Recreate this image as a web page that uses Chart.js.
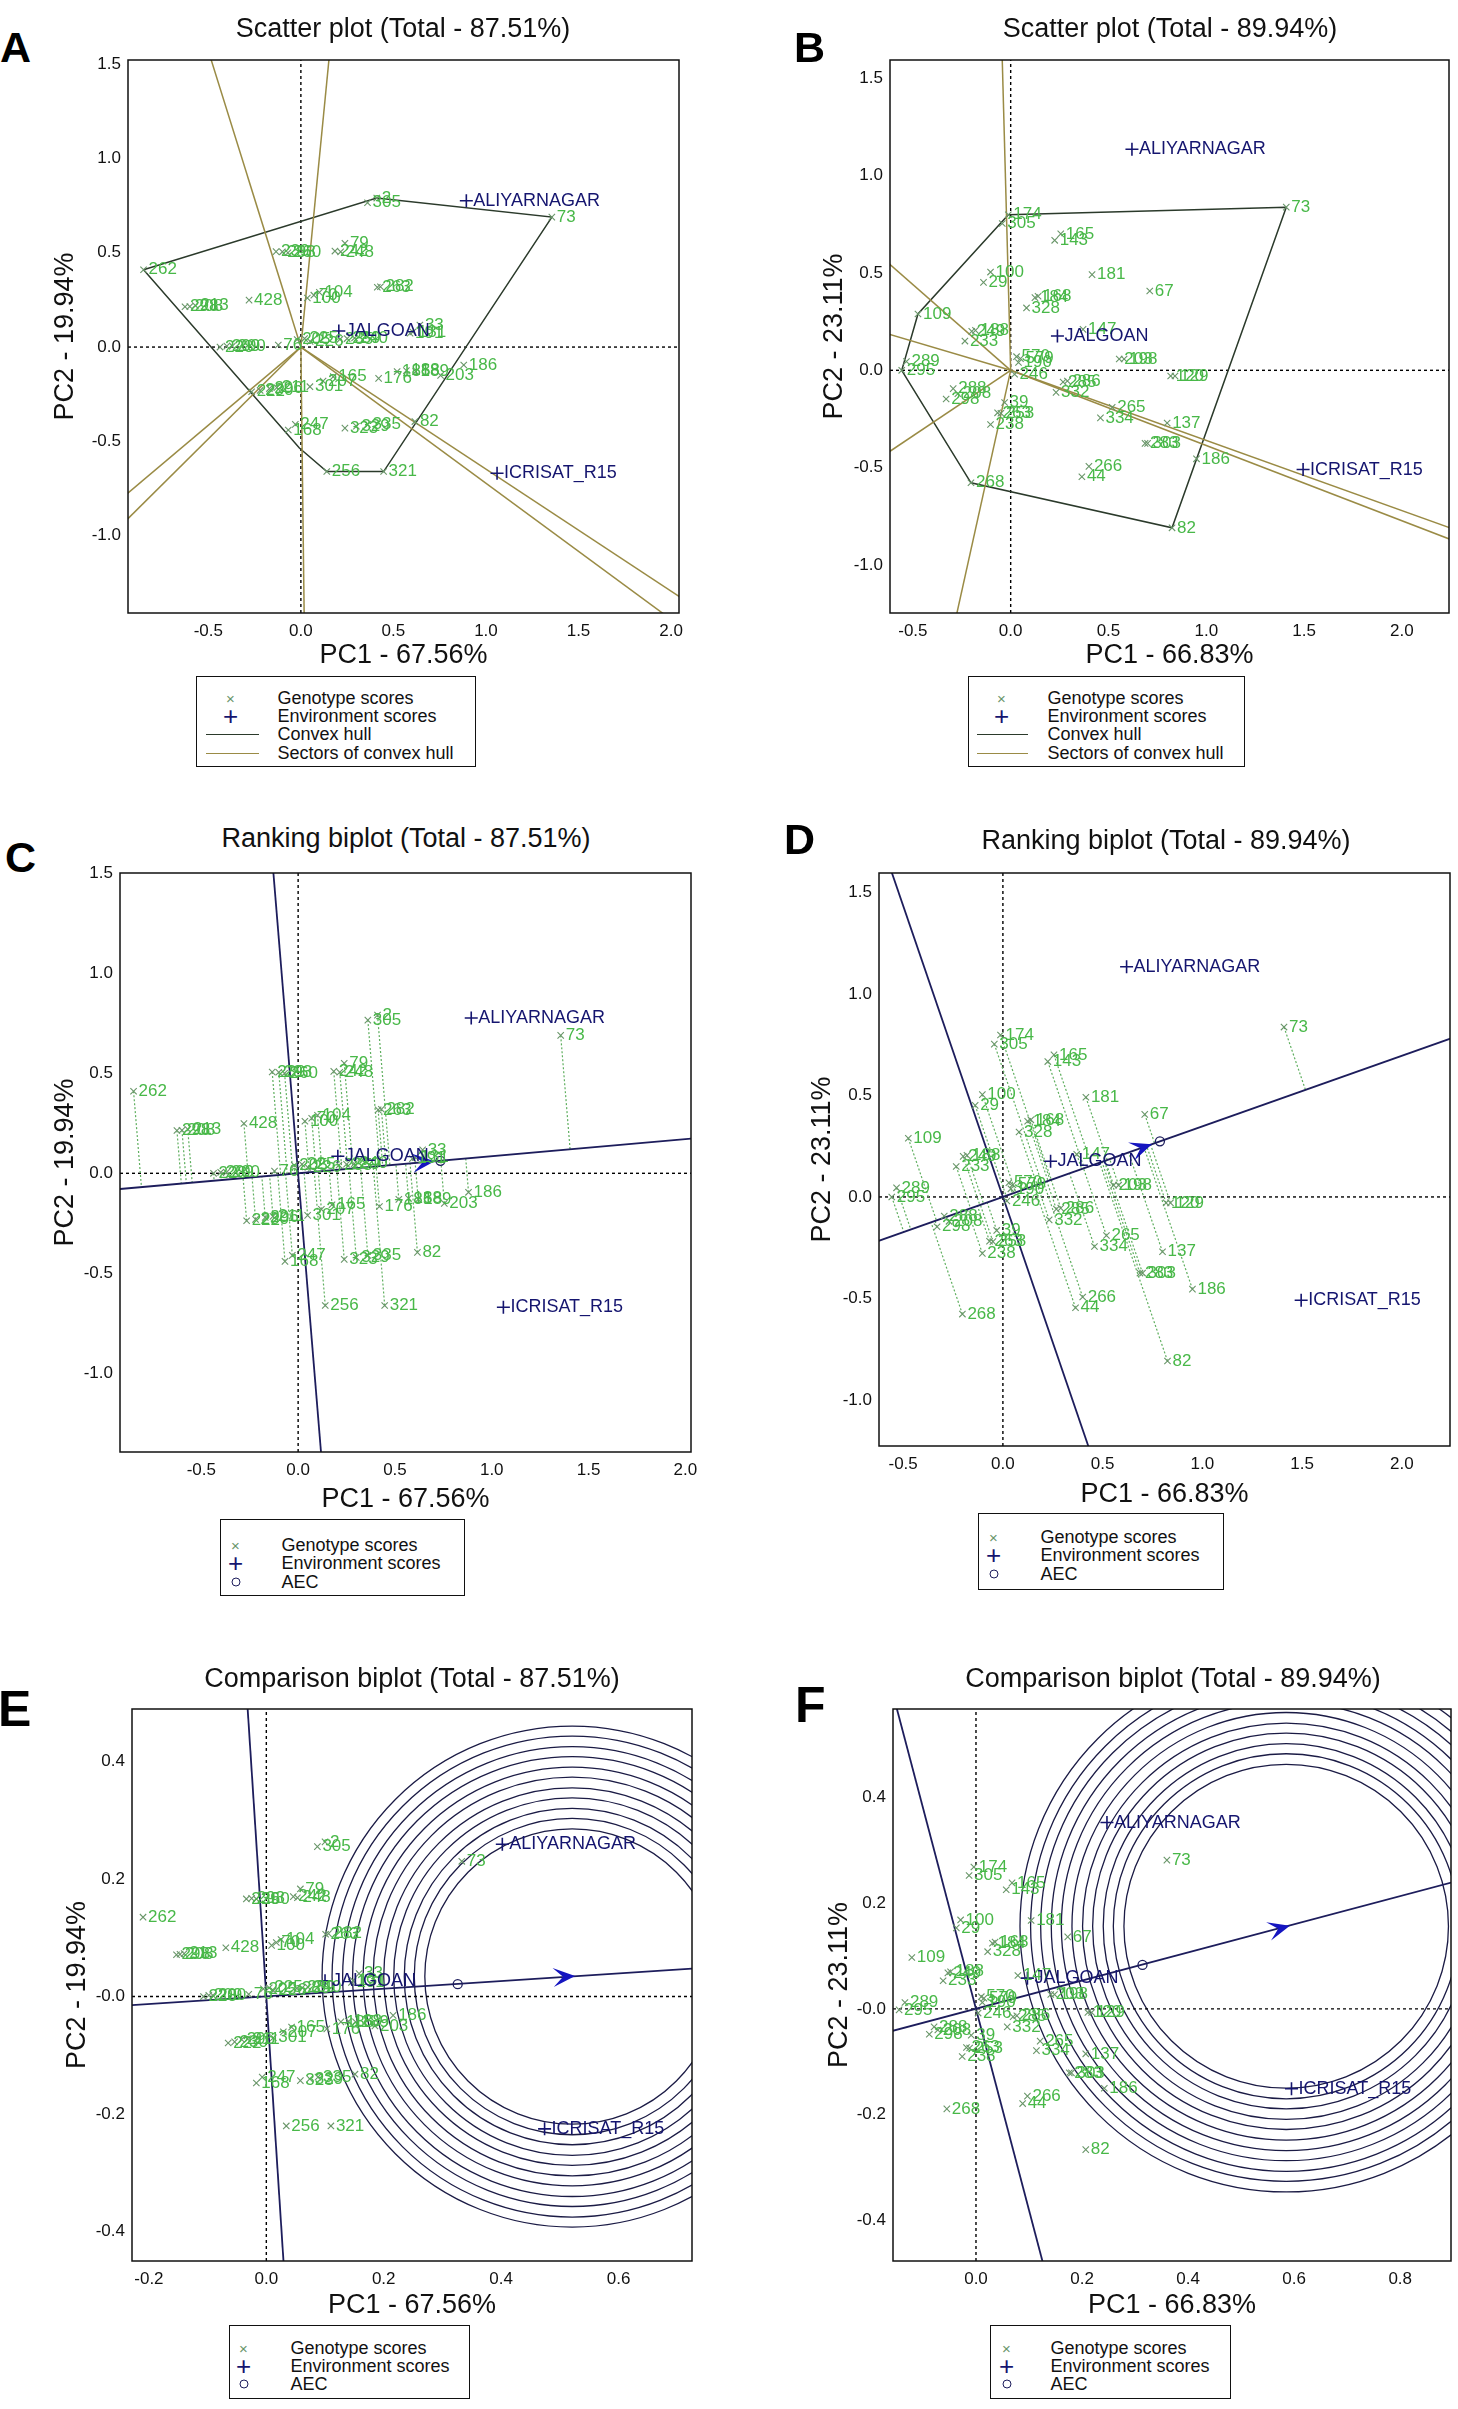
<!DOCTYPE html>
<html>
<head>
<meta charset="utf-8">
<title>GGE biplots</title>
<script src="https://cdn.jsdelivr.net/npm/chart.js@4.4.1/dist/chart.umd.min.js"></script>
<style>
  html, body { margin:0; padding:0; background:#fff; }
  body { position:relative; width:1458px; height:2409px; overflow:hidden; font-family:"Liberation Sans", Arial, Helvetica, sans-serif; color:#000; }
  canvas { position:absolute; }
  .letter { position:absolute; font-weight:bold; line-height:1; color:#000; }
  .ptitle { position:absolute; font-size:27px; line-height:1; white-space:nowrap; transform:translate(-50%,-50%); color:#111; }
  .legend { position:absolute; border:1.5px solid #111; box-sizing:border-box; background:#fff; }
  .lt { position:absolute; font-size:18px; line-height:1; white-space:nowrap; transform:translateY(-50%); color:#111; }
  .ls { position:absolute; line-height:1; transform:translate(-50%,-50%); }
  .ll { position:absolute; height:0; }
</style>
</head>
<body>
<script>
// ===================== DATA =====================
const envLabels = ['ALIYARNAGAR', 'JALGOAN', 'ICRISAT_R15'];

// ---- Dataset 1 : panels A and C (PC1 67.56 %, PC2 19.94 %) ----
const geno1Labels = ['262','2','305','73','239','293','260','79','242','248','104','100','70','263','282','428','298','208','213','33','191','131','285','289','240','205','225','76','226','228','209','200','186','203','176','185','188','189','165','301','207','222','230','296','211','247','168','323','329','335','82','256','321'];
const geno1PC1 = [-0.85,0.41,0.36,1.356,-0.134,-0.10,-0.07,0.238,0.184,0.215,0.10,0.035,0.07,0.413,0.43,-0.28,-0.626,-0.60,-0.57,0.643,0.59,0.605,0.211,0.25,0.29,-0.02,0.02,-0.122,0.05,-0.437,-0.40,-0.37,0.88,0.755,0.42,0.52,0.57,0.62,0.175,0.049,0.12,-0.266,-0.22,-0.17,-0.13,-0.03,-0.068,0.238,0.30,0.36,0.616,0.14,0.447];
const geno1PC2 = [0.41,0.79,0.765,0.689,0.506,0.505,0.50,0.55,0.509,0.505,0.29,0.26,0.275,0.317,0.32,0.249,0.214,0.215,0.22,0.117,0.073,0.08,0.041,0.045,0.048,0.04,0.045,0.011,0.03,0.0,0.005,0.005,-0.095,-0.15,-0.166,-0.13,-0.125,-0.13,-0.157,-0.21,-0.18,-0.237,-0.23,-0.22,-0.215,-0.41,-0.44,-0.43,-0.42,-0.41,-0.395,-0.66,-0.66];
const env1PC1 = [0.894, 0.205, 1.06];
const env1PC2 = [0.776, 0.085, -0.669];
const hull1PC1 = [-0.85, 0.41, 1.356, 0.447, 0.14, -0.008];
const hull1PC2 = [0.41, 0.79, 0.689, -0.66, -0.66, -0.535];
const sector1PC1 = [-0.521, 0.163, -1.0, -1.0, 2.1, 2.1, 0.019];
const sector1PC2 = [1.637, 1.637, -0.828, -0.974, -1.359, -1.516, -1.514];
const aec1AbsPC1 = [-0.95, 2.1];
const aec1AbsPC2 = [-0.081, 0.179];
const aec1OrdPC1 = [-0.132, 0.123];
const aec1OrdPC2 = [1.55, -1.45];
const aec1Arrow = [0.705, 0.06];
const aec1Mark = [0.735, 0.0625];

// ---- Dataset 2 : panels B and D (PC1 66.83 %, PC2 23.11 %) ----
const geno2Labels = ['73','174','305','165','143','181','67','100','29','184','168','328','109','147','249','188','233','289','295','570','579','190','246','203','198','120','129','285','286','332','288','298','208','39','263','253','238','265','334','137','283','303','186','266','44','268','82'];
const geno2PC1 = [1.409,-0.012,-0.043,0.256,0.225,0.416,0.711,-0.103,-0.139,0.124,0.14,0.081,-0.474,0.37,-0.199,-0.18,-0.234,-0.533,-0.557,0.03,0.05,0.04,0.02,0.555,0.58,0.818,0.84,0.268,0.29,0.232,-0.294,-0.33,-0.27,-0.031,-0.067,-0.05,-0.103,0.519,0.459,0.80,0.687,0.70,0.95,0.40,0.364,-0.203,0.825];
const geno2PC2 = [0.837,0.798,0.753,0.70,0.667,0.491,0.407,0.504,0.451,0.373,0.38,0.32,0.289,0.21,0.20,0.205,0.15,0.045,0.0,0.07,0.06,0.04,-0.02,0.058,0.058,-0.029,-0.029,-0.06,-0.055,-0.113,-0.094,-0.147,-0.12,-0.165,-0.218,-0.22,-0.278,-0.19,-0.244,-0.27,-0.375,-0.375,-0.454,-0.493,-0.546,-0.577,-0.808];
const env2PC1 = [0.62, 0.239, 1.495];
const env2PC2 = [1.134, 0.176, -0.509];
const hull2PC1 = [1.409, -0.012, -0.474, -0.557, -0.203, 0.825];
const hull2PC2 = [0.837, 0.798, 0.289, 0.0, -0.577, -0.808];
const sector2PC1 = [-0.046, -0.66, -0.66, -0.66, -0.294, 2.4, 2.4];
const sector2PC2 = [1.70, 0.581, 0.197, -0.444, -1.332, -0.864, -0.926];
const aec2AbsPC1 = [-0.65, 2.3];
const aec2AbsPC2 = [-0.226, 0.80];
const aec2OrdPC1 = [-0.561, 0.436];
const aec2OrdPC2 = [1.61, -1.25];
const aec2Arrow = [0.747, 0.26];
const aec2Mark = [0.787, 0.274];

// ---- Dataset 3 : panel E (comparison, PC1 67.56 %, PC2 19.94 %) ----
const geno3PC1 = [-0.21,0.10,0.087,0.333,-0.034,-0.025,-0.017,0.058,0.046,0.053,0.025,0.009,0.017,0.101,0.106,-0.069,-0.153,-0.147,-0.14,0.158,0.145,0.148,0.052,0.061,0.071,-0.005,0.005,-0.03,0.012,-0.107,-0.098,-0.091,0.216,0.185,0.103,0.127,0.14,0.152,0.043,0.012,0.029,-0.065,-0.054,-0.042,-0.032,-0.007,-0.017,0.058,0.074,0.088,0.151,0.034,0.11];
const geno3PC2 = [0.135,0.263,0.255,0.23,0.166,0.167,0.166,0.183,0.17,0.168,0.097,0.087,0.092,0.106,0.107,0.083,0.071,0.072,0.073,0.039,0.024,0.027,0.014,0.015,0.016,0.013,0.015,0.004,0.01,0.0,0.002,0.002,-0.032,-0.05,-0.055,-0.043,-0.042,-0.043,-0.052,-0.07,-0.06,-0.079,-0.077,-0.073,-0.072,-0.137,-0.147,-0.143,-0.14,-0.137,-0.132,-0.22,-0.22];
const env3PC1 = [0.402, 0.10, 0.474];
const env3PC2 = [0.259, 0.027, -0.225];
const aec3AbsPC1 = [-0.25, 0.75];
const aec3AbsPC2 = [-0.016, 0.049];
const aec3OrdPC1 = [-0.0325, 0.0299];
const aec3OrdPC2 = [0.50, -0.46];
const aec3Arrow = [0.526, 0.035];
const aec3Mark = [0.326, 0.021];
const ring3Centre = [0.521, 0.034];
const ring3Radii = [0.251,0.269,0.286,0.304,0.321,0.339,0.356,0.374,0.391,0.409,0.426];

// ---- Dataset 4 : panel F (comparison, PC1 66.83 %, PC2 23.11 %) ----
const geno4PC1 = [0.36,-0.004,-0.013,0.068,0.057,0.104,0.173,-0.029,-0.037,0.031,0.036,0.022,-0.121,0.079,-0.053,-0.048,-0.062,-0.134,-0.145,0.01,0.015,0.012,0.004,0.141,0.148,0.211,0.218,0.07,0.077,0.059,-0.079,-0.088,-0.072,-0.009,-0.018,-0.012,-0.026,0.121,0.114,0.207,0.176,0.18,0.242,0.097,0.088,-0.055,0.207];
const geno4PC2 = [0.281,0.268,0.252,0.238,0.225,0.167,0.136,0.168,0.153,0.124,0.126,0.108,0.097,0.063,0.068,0.07,0.053,0.012,-0.002,0.023,0.02,0.012,-0.008,0.027,0.027,-0.007,-0.007,-0.015,-0.013,-0.034,-0.034,-0.048,-0.04,-0.05,-0.073,-0.074,-0.09,-0.061,-0.079,-0.085,-0.121,-0.121,-0.15,-0.165,-0.179,-0.189,-0.266];
const env4PC1 = [0.247, 0.097, 0.595];
const env4PC2 = [0.352, 0.058, -0.151];
const aec4AbsPC1 = [-0.17, 0.92];
const aec4AbsPC2 = [-0.045, 0.245];
const aec4OrdPC1 = [-0.15, 0.127];
const aec4OrdPC2 = [0.57, -0.483];
const aec4Arrow = [0.592, 0.157];
const aec4Mark = [0.314, 0.083];
const ring4Centre = [0.585, 0.156];
const ring4Radii = [0.306,0.326,0.345,0.365,0.384,0.404,0.424,0.443,0.463,0.482,0.502];

// ---- tick values / labels ----
const ticksPC1Wide = [-0.5, 0, 0.5, 1, 1.5, 2];
const ticksPC1WideLab = ['-0.5','0.0','0.5','1.0','1.5','2.0'];
const ticksPC2Wide = [-1, -0.5, 0, 0.5, 1, 1.5];
const ticksPC2WideLab = ['-1.0','-0.5','0.0','0.5','1.0','1.5'];
const ticksPC1E = [-0.2, 0, 0.2, 0.4, 0.6];
const ticksPC1ELab = ['-0.2','0.0','0.2','0.4','0.6'];
const ticksPC1F = [0, 0.2, 0.4, 0.6, 0.8];
const ticksPC1FLab = ['0.0','0.2','0.4','0.6','0.8'];
const ticksPC2Cmp = [-0.4, -0.2, 0, 0.2, 0.4];
const ticksPC2CmpLab = ['-0.4','-0.2','-0.0','0.2','0.4'];

// ===================== STYLE =====================
const FONT = '"Liberation Sans", Arial, Helvetica, sans-serif';
const COL = {
  genoMark: 'rgb(105,150,105)',
  genoText: 'rgb(72,184,72)',
  env: '#15156f',
  hull: '#2b3a2b',
  sector: '#9a8b45',
  aec: '#1d1d5c',
  arrow: '#1515c0',
  ring: '#1b1b45',
  proj: 'rgb(95,175,95)',
  axis: '#000'
};

// ===================== PLUGIN =====================
const ggePlugin = {
  id: 'gge',
  beforeDatasetsDraw(chart, args, o) {
    if (!o || !o.rings) return;
    const {ctx, chartArea: a} = chart; const xs = chart.scales.x, ys = chart.scales.y;
    ctx.save();
    ctx.beginPath(); ctx.rect(a.left, a.top, a.right - a.left, a.bottom - a.top); ctx.clip();
    ctx.strokeStyle = COL.ring; ctx.lineWidth = 1.3;
    const cx = xs.getPixelForValue(o.rings.c[0]), cy = ys.getPixelForValue(o.rings.c[1]);
    o.rings.r.forEach(r => {
      const rx = Math.abs(xs.getPixelForValue(o.rings.c[0] + r) - cx);
      const ry = Math.abs(ys.getPixelForValue(o.rings.c[1] + r) - cy);
      ctx.beginPath(); ctx.ellipse(cx, cy, rx, ry, 0, 0, Math.PI * 2); ctx.stroke();
    });
    ctx.restore();
  },
  afterDatasetsDraw(chart, args, o) {
    if (!o) return;
    const {ctx, chartArea: a} = chart; const xs = chart.scales.x, ys = chart.scales.y;
    ctx.save();
    ctx.beginPath(); ctx.rect(a.left, a.top, a.right - a.left, a.bottom - a.top); ctx.clip();
    if (o.arrow) {
      const px = xs.getPixelForValue(o.arrow.at[0]), py = ys.getPixelForValue(o.arrow.at[1]);
      const qx = xs.getPixelForValue(o.arrow.at[0] - o.arrow.dir[0] * 0.05);
      const qy = ys.getPixelForValue(o.arrow.at[1] - o.arrow.dir[1] * 0.05);
      const ang = Math.atan2(py - qy, px - qx);
      ctx.save(); ctx.translate(px, py); ctx.rotate(ang);
      ctx.fillStyle = COL.arrow;
      const L = 22, W = 9.5;
      ctx.beginPath(); ctx.moveTo(0, 0); ctx.lineTo(-L, -W); ctx.lineTo(-0.55 * L, 0); ctx.lineTo(-L, W); ctx.closePath(); ctx.fill();
      ctx.restore();
    }
    (o.labels || []).forEach(g => {
      ctx.fillStyle = g.color; ctx.font = g.size + 'px ' + FONT;
      ctx.textAlign = 'left'; ctx.textBaseline = 'middle';
      g.t.forEach((t, i) => {
        ctx.fillText(t, xs.getPixelForValue(g.x[i]) + g.dx, ys.getPixelForValue(g.y[i]));
      });
    });
    ctx.restore();
    ctx.save();
    ctx.strokeStyle = '#111'; ctx.lineWidth = 1.5;
    ctx.strokeRect(a.left, a.top, a.right - a.left, a.bottom - a.top);
    ctx.restore();
  }
};
Chart.register(ggePlugin);

// ===================== HELPERS =====================
function pts(xs, ys) { return xs.map((v, i) => ({x: v, y: ys[i]})); }
function seg(x0, y0, x1, y1, color, width, dash) {
  return {data: [{x: x0, y: y0}, {x: x1, y: y1}], showLine: true, borderColor: color, borderWidth: width,
          borderDash: dash || [], pointRadius: 0, pointHoverRadius: 0, fill: false, tension: 0};
}

function makePanel(p) {
  const Yw = Math.round(p.L - (p.ytc - 16.2));
  const Xh = Math.round((p.xtc + 16.2) - p.B);
  const CL = p.L - Yw, CT = p.T - 20;
  const CW = p.R + 30 - CL, CH = p.B + Xh - CT;
  const cv = document.createElement('canvas');
  cv.width = CW; cv.height = CH;
  cv.style.left = CL + 'px'; cv.style.top = CT + 'px';
  cv.style.width = CW + 'px'; cv.style.height = CH + 'px';
  document.body.appendChild(cv);

  const ds = [];
  ds.push(seg(p.xmin, 0, p.xmax, 0, COL.axis, 1.4, [3, 3]));
  ds.push(seg(0, p.ymin, 0, p.ymax, COL.axis, 1.4, [3, 3]));
  if (p.hull) {
    const hx = p.hull[0].concat([p.hull[0][0]]), hy = p.hull[1].concat([p.hull[1][0]]);
    ds.push({data: pts(hx, hy), showLine: true, borderColor: COL.hull, borderWidth: 1.5, pointRadius: 0, fill: false, tension: 0});
  }
  if (p.sectors) p.sectors[0].forEach((ex, i) => ds.push(seg(0, 0, ex, p.sectors[1][i], COL.sector, 1.5)));
  if (p.aec) {
    const A = p.aec;
    if (p.proj) {
      const dx = A.abs[0][1] - A.abs[0][0], dy = A.abs[1][1] - A.abs[1][0];
      const nn = dx * dx + dy * dy;
      p.g[0].forEach((gx, i) => {
        const gy = p.g[1][i]; const t = (gx * dx + gy * dy) / nn;
        ds.push(seg(gx, gy, t * dx, t * dy, COL.proj, 1.2, [2, 2]));
      });
    }
    ds.push(seg(A.abs[0][0], A.abs[1][0], A.abs[0][1], A.abs[1][1], COL.aec, 1.8));
    ds.push(seg(A.ord[0][0], A.ord[1][0], A.ord[0][1], A.ord[1][1], COL.aec, 1.8));
  }
  ds.push({data: pts(p.g[0], p.g[1]), pointStyle: 'crossRot', pointRadius: 4.5, borderColor: COL.genoMark,
           backgroundColor: COL.genoMark, borderWidth: 1.1, showLine: false});
  ds.push({data: pts(p.e[0], p.e[1]), pointStyle: 'cross', pointRadius: 6.5, borderColor: COL.env,
           backgroundColor: COL.env, borderWidth: 1.6, showLine: false});
  if (p.aec && p.aec.mark) {
    ds.push({data: [{x: p.aec.mark[0], y: p.aec.mark[1]}], pointStyle: 'circle', pointRadius: 4.5,
             borderColor: COL.aec, backgroundColor: 'rgba(0,0,0,0)', borderWidth: 1.3, showLine: false});
  }
  const n = ds.length; ds.forEach((d, i) => { d.order = n - i; });

  const ggeOpts = {
    labels: [
      {x: p.g[0], y: p.g[1], t: p.gl, color: COL.genoText, size: 17, dx: 5},
      {x: p.e[0], y: p.e[1], t: envLabels, color: COL.env, size: 18, dx: 7}
    ]
  };
  if (p.aec) {
    const A = p.aec;
    ggeOpts.arrow = {at: A.arrow, dir: [A.abs[0][1] - A.abs[0][0], A.abs[1][1] - A.abs[1][0]]};
  }
  if (p.rings) ggeOpts.rings = p.rings;

  const tickFont = {family: FONT, size: 17};
  const titleFont = {family: FONT, size: 27};
  new Chart(cv.getContext('2d'), {
    type: 'scatter',
    data: {datasets: ds},
    options: {
      responsive: false, animation: false, events: [],
      layout: {padding: {left: 0, top: 20, right: 30, bottom: 0}},
      plugins: {legend: {display: false}, tooltip: {enabled: false}, gge: ggeOpts},
      scales: {
        x: {
          type: 'linear', min: p.xmin, max: p.xmax,
          afterBuildTicks: s => { s.ticks = p.xt.map(v => ({value: v})); },
          afterFit: s => { s.height = Xh; },
          ticks: {callback: (v, i) => p.xtl[i], font: tickFont, color: '#111', padding: 8, maxRotation: 0, autoSkip: false},
          grid: {display: false, drawTicks: false}, border: {display: false},
          title: {display: true, text: p.xTitle, font: titleFont, color: '#111', padding: 0}
        },
        y: {
          type: 'linear', min: p.ymin, max: p.ymax,
          afterBuildTicks: s => { s.ticks = p.yt.map(v => ({value: v})); },
          afterFit: s => { s.width = Yw; },
          ticks: {callback: (v, i) => p.ytl[i], font: tickFont, color: '#111', padding: 7, autoSkip: false},
          grid: {display: false, drawTicks: false}, border: {display: false},
          title: {display: true, text: p.yTitle, font: titleFont, color: '#111', padding: 0}
        }
      }
    }
  });
}

function addText(cls, txt, x, y, size) {
  const d = document.createElement('div'); d.className = cls; d.textContent = txt;
  d.style.left = x + 'px'; d.style.top = y + 'px';
  if (size) d.style.fontSize = size + 'px';
  document.body.appendChild(d);
}

function makeLegend(b, rows) {
  const d = document.createElement('div'); d.className = 'legend';
  d.style.left = b.x + 'px'; d.style.top = b.y + 'px'; d.style.width = b.w + 'px'; d.style.height = b.h + 'px';
  const ox = b.x + 1.5, oy = b.y + 1.5;
  rows.forEach((r, i) => {
    const ry = b.rows[i] - oy;
    const t = document.createElement('div'); t.className = 'lt'; t.textContent = r.text;
    t.style.left = (b.tx - ox) + 'px'; t.style.top = ry + 'px'; d.appendChild(t);
    if (r.sym === 'x' || r.sym === '+') {
      const s = document.createElement('div'); s.className = 'ls';
      s.textContent = r.sym === 'x' ? '\u00d7' : '+';
      s.style.color = r.sym === 'x' ? COL.genoMark : COL.env;
      s.style.fontSize = r.sym === 'x' ? '15px' : '26px';
      s.style.left = (b.sx - ox) + 'px'; s.style.top = ry + 'px'; d.appendChild(s);
    } else if (r.sym === 'o') {
      const s = document.createElement('div'); s.className = 'ls';
      s.style.width = '7px'; s.style.height = '7px'; s.style.border = '1.4px solid ' + COL.aec; s.style.borderRadius = '50%';
      s.style.left = (b.sx - ox) + 'px'; s.style.top = ry + 'px'; d.appendChild(s);
    } else {
      const s = document.createElement('div'); s.className = 'll';
      s.style.left = (b.l0 - ox) + 'px'; s.style.width = (b.l1 - b.l0) + 'px';
      s.style.top = ry + 'px'; s.style.borderTop = '1.5px solid ' + (r.sym === 'hull' ? COL.hull : COL.sector);
      d.appendChild(s);
    }
  });
  document.body.appendChild(d);
}

// ===================== PANELS =====================
const T1x = 'PC1 - 67.56%', T1y = 'PC2 - 19.94%';
const T2x = 'PC1 - 66.83%', T2y = 'PC2 - 23.11%';

makePanel({L:128, T:60, R:679, B:613, ytc:65, xtc:656, xmin:-0.934, xmax:2.043, ymin:-1.41, ymax:1.522,
  xt:ticksPC1Wide, xtl:ticksPC1WideLab, yt:ticksPC2Wide, ytl:ticksPC2WideLab, xTitle:T1x, yTitle:T1y,
  g:[geno1PC1, geno1PC2], gl:geno1Labels, e:[env1PC1, env1PC2],
  hull:[hull1PC1, hull1PC2], sectors:[sector1PC1, sector1PC2]});

makePanel({L:890, T:60, R:1449, B:613, ytc:834, xtc:656, xmin:-0.617, xmax:2.241, ymin:-1.245, ymax:1.592,
  xt:ticksPC1Wide, xtl:ticksPC1WideLab, yt:ticksPC2Wide, ytl:ticksPC2WideLab, xTitle:T2x, yTitle:T2y,
  g:[geno2PC1, geno2PC2], gl:geno2Labels, e:[env2PC1, env2PC2],
  hull:[hull2PC1, hull2PC2], sectors:[sector2PC1, sector2PC2]});

makePanel({L:120, T:873, R:691, B:1452, ytc:65, xtc:1500, xmin:-0.92, xmax:2.029, ymin:-1.392, ymax:1.5,
  xt:ticksPC1Wide, xtl:ticksPC1WideLab, yt:ticksPC2Wide, ytl:ticksPC2WideLab, xTitle:T1x, yTitle:T1y,
  g:[geno1PC1, geno1PC2], gl:geno1Labels, e:[env1PC1, env1PC2], proj:true,
  aec:{abs:[aec1AbsPC1, aec1AbsPC2], ord:[aec1OrdPC1, aec1OrdPC2], arrow:aec1Arrow, mark:aec1Mark}});

makePanel({L:879, T:873, R:1450, B:1446, ytc:822, xtc:1495, xmin:-0.621, xmax:2.241, ymin:-1.227, ymax:1.596,
  xt:ticksPC1Wide, xtl:ticksPC1WideLab, yt:ticksPC2Wide, ytl:ticksPC2WideLab, xTitle:T2x, yTitle:T2y,
  g:[geno2PC1, geno2PC2], gl:geno2Labels, e:[env2PC1, env2PC2], proj:true,
  aec:{abs:[aec2AbsPC1, aec2AbsPC2], ord:[aec2OrdPC1, aec2OrdPC2], arrow:aec2Arrow, mark:aec2Mark}});

makePanel({L:132, T:1709, R:692, B:2261, ytc:77, xtc:2306, xmin:-0.2288, xmax:0.7251, ymin:-0.4497, ymax:0.489,
  xt:ticksPC1E, xtl:ticksPC1ELab, yt:ticksPC2Cmp, ytl:ticksPC2CmpLab, xTitle:T1x, yTitle:T1y,
  g:[geno3PC1, geno3PC2], gl:geno1Labels, e:[env3PC1, env3PC2],
  aec:{abs:[aec3AbsPC1, aec3AbsPC2], ord:[aec3OrdPC1, aec3OrdPC2], arrow:aec3Arrow, mark:aec3Mark},
  rings:{c:ring3Centre, r:ring3Radii}});

makePanel({L:893, T:1709, R:1451, B:2261, ytc:839, xtc:2306, xmin:-0.1565, xmax:0.8958, ymin:-0.4765, ymax:0.5666,
  xt:ticksPC1F, xtl:ticksPC1FLab, yt:ticksPC2Cmp, ytl:ticksPC2CmpLab, xTitle:T2x, yTitle:T2y,
  g:[geno4PC1, geno4PC2], gl:geno2Labels, e:[env4PC1, env4PC2],
  aec:{abs:[aec4AbsPC1, aec4AbsPC2], ord:[aec4OrdPC1, aec4OrdPC2], arrow:aec4Arrow, mark:aec4Mark},
  rings:{c:ring4Centre, r:ring4Radii}});

// letters
addText('letter', 'A', 0, 25.6, 43);
addText('letter', 'B', 794, 25.6, 43);
addText('letter', 'C', 5, 835.6, 43);
addText('letter', 'D', 784, 817.6, 43);
addText('letter', 'E', -2, 1683.7, 50);
addText('letter', 'F', 795, 1679.7, 50);

// titles
addText('ptitle', 'Scatter plot (Total - 87.51%)', 403, 28);
addText('ptitle', 'Scatter plot (Total - 89.94%)', 1170, 28);
addText('ptitle', 'Ranking biplot (Total - 87.51%)', 406, 838);
addText('ptitle', 'Ranking biplot (Total - 89.94%)', 1166, 840);
addText('ptitle', 'Comparison biplot (Total - 87.51%)', 412, 1678);
addText('ptitle', 'Comparison biplot (Total - 89.94%)', 1173, 1678);

// legends
const rowsHull = [{sym:'x', text:'Genotype scores'}, {sym:'+', text:'Environment scores'},
                  {sym:'hull', text:'Convex hull'}, {sym:'sector', text:'Sectors of convex hull'}];
const rowsAEC = [{sym:'x', text:'Genotype scores'}, {sym:'+', text:'Environment scores'}, {sym:'o', text:'AEC'}];
makeLegend({x:196, y:676, w:280, h:91, tx:278, sx:231, l0:206, l1:259, rows:[698,716,734,753]}, rowsHull);
makeLegend({x:968, y:676, w:277, h:91, tx:1048, sx:1002, l0:977, l1:1028, rows:[698,716,734,753]}, rowsHull);
makeLegend({x:220, y:1519, w:245, h:77, tx:282, sx:236, rows:[1545,1563,1582]}, rowsAEC);
makeLegend({x:978, y:1513, w:246, h:77, tx:1041, sx:994, rows:[1537,1555,1574]}, rowsAEC);
makeLegend({x:229, y:2325, w:241, h:74, tx:291, sx:244, rows:[2348,2366,2384]}, rowsAEC);
makeLegend({x:990, y:2325, w:241, h:74, tx:1051, sx:1007, rows:[2348,2366,2384]}, rowsAEC);
</script>
</body>
</html>
